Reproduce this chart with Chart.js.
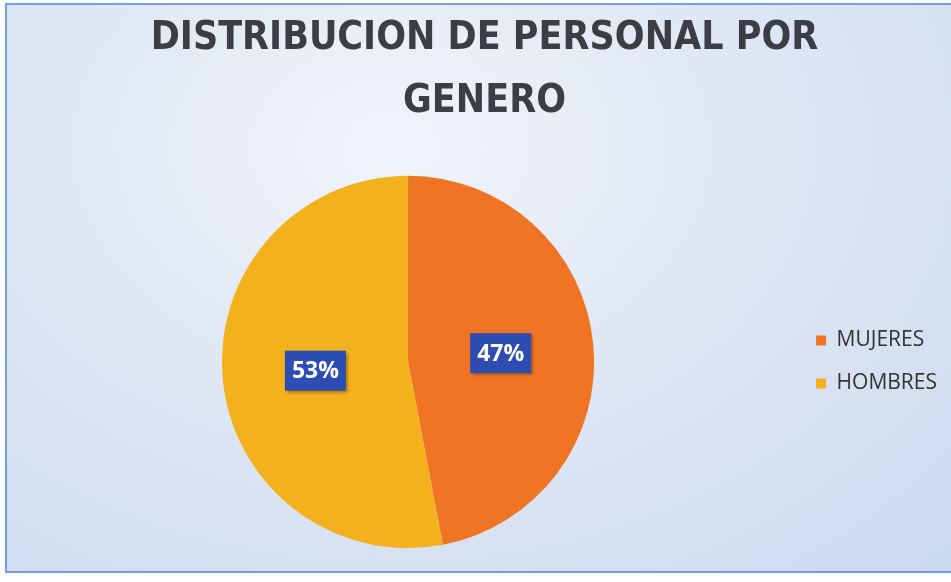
<!DOCTYPE html>
<html>
<head>
<meta charset="utf-8">
<script src="https://cdn.jsdelivr.net/npm/chart.js@4/dist/chart.umd.min.js"></script>
<style>
  html, body { margin: 0; padding: 0; background: #fff; }
  #frame {
    position: absolute; left: 5px; top: 3px; width: 960px; height: 566px;
    border: 2px solid #6f9fe6;
    background: radial-gradient(ellipse at 40% 25%, #f1f4fa 0%, #dfe7f4 45%, #cbd9ef 100%);
  }
  #wrap { position: absolute; left: 0; top: 0; width: 951px; height: 582px; }
</style>
</head>
<body>
<div id="frame"></div>
<div id="wrap"><canvas id="genderChart"></canvas></div>
<script>
const titleLines = ["DISTRIBUCION DE PERSONAL POR", "GENERO"];
const categories = ["MUJERES", "HOMBRES"];
const percentages = [47, 53];
const sliceColors = ["#ef7423", "#f4b11e"];

// draws the blue boxes with the % value on each slice
const valueBoxes = {
    id: "valueBoxes",
    afterDatasetsDraw(chart) {
        const { ctx } = chart;
        const meta = chart.getDatasetMeta(0);
        ctx.save();
        ctx.font = "bold 23px 'Open Sans', sans-serif";
        ctx.textAlign = "center";
        ctx.textBaseline = "middle";
        meta.data.forEach((arc, i) => {
            const p = arc.getCenterPoint();
            const text = percentages[i] + "%";
            const w = ctx.measureText(text).width + 14;
            const h = 40;
            ctx.shadowColor = "rgba(0,0,0,0.35)";
            ctx.shadowOffsetX = 2;
            ctx.shadowOffsetY = 2;
            ctx.shadowBlur = 3;
            ctx.fillStyle = "#2d4db3";
            ctx.fillRect(p.x - w / 2, p.y - h / 2, w, h);
            ctx.shadowColor = "transparent";
            ctx.fillStyle = "#ffffff";
            ctx.fillText(text, p.x, p.y + 1);
        });
        ctx.restore();
    },
};

const ctx = document.getElementById("genderChart").getContext("2d");

new Chart(ctx, {
    type: "pie",
    data: {
        labels: categories,
        datasets: [
            {
                data: percentages,
                backgroundColor: sliceColors,
                borderWidth: 0,
            },
        ],
    },
    options: {
        responsive: true,
        maintainAspectRatio: false,
        animation: false,
        layout: {
            padding: { top: 0, bottom: 34, left: 22, right: 4 },
        },
        plugins: {
            title: {
                display: true,
                text: titleLines,
                color: "#3b3e46",
                font: {
                    family: "'DejaVu Sans Condensed', sans-serif",
                    size: 39,
                    weight: "bold",
                    lineHeight: 1.6,
                },
                padding: { top: 8, bottom: 43 },
            },
            legend: {
                position: "right",
                fullSize: false, // keep it beside the pie, below the title
                labels: {
                    color: "#333333",
                    boxWidth: 10,
                    boxHeight: 10,
                    padding: 22,
                    font: { family: "'Open Sans', sans-serif", size: 21 },
                },
            },
            tooltip: { enabled: false },
        },
    },
    plugins: [valueBoxes],
});
</script>
</body>
</html>
